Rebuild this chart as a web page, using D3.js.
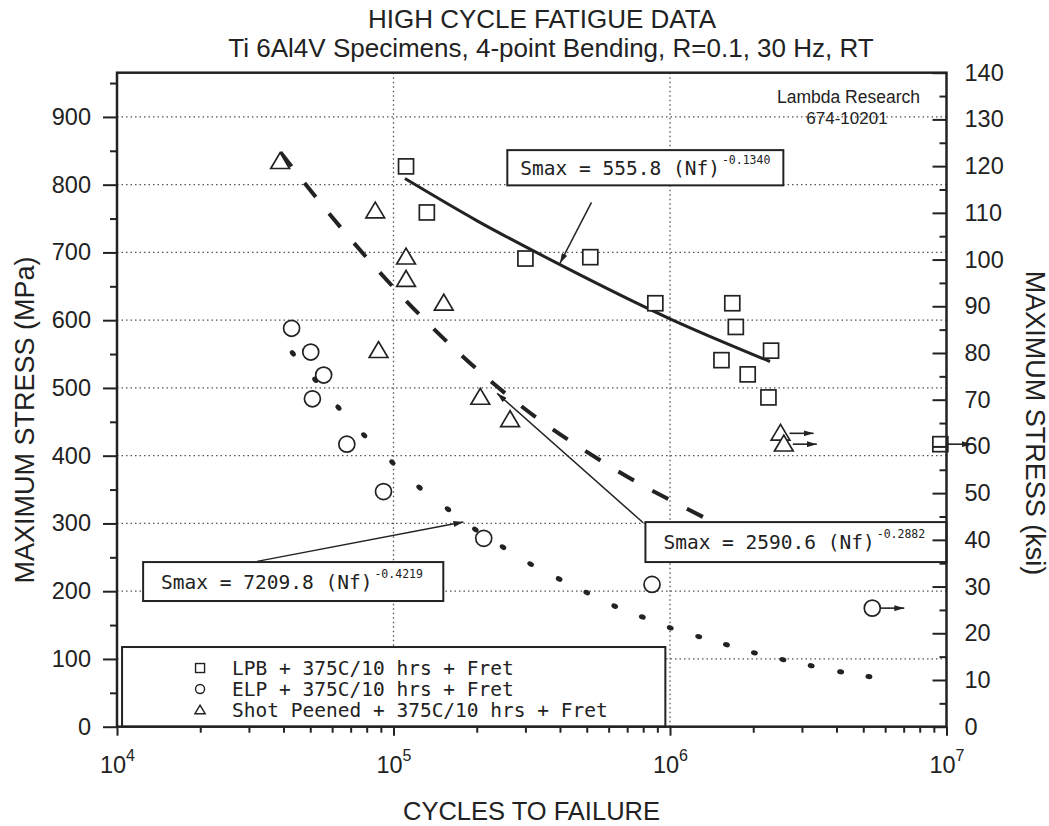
<!DOCTYPE html>
<html><head><meta charset="utf-8">
<script src="https://cdn.jsdelivr.net/npm/d3@7"></script>
<style>body{margin:0;background:#fff}</style>
</head><body>
<svg id="c" width="1049" height="826"></svg>
<script>
// ---------------- DATA ----------------
const titleText = "HIGH CYCLE FATIGUE DATA";
const subtitleText = "Ti 6Al4V Specimens, 4-point Bending, R=0.1, 30 Hz, RT";
const xLabelText = "CYCLES TO FAILURE";
const yLabelLeft = "MAXIMUM STRESS (MPa)";
const yLabelRight = "MAXIMUM STRESS (ksi)";
const noteLines = ["Lambda Research", "674-10201"];

const xDecades = [1e4, 1e5, 1e6, 1e7];
const xGridN = [1e5, 1e6];
const yTicksMPa = [0, 100, 200, 300, 400, 500, 600, 700, 800, 900];
const yMinorMPa = [50, 150, 250, 350, 450, 550, 650, 750, 850, 950];
const yTicksKsi = [0, 10, 20, 30, 40, 50, 60, 70, 80, 90, 100, 110, 120, 130, 140];
const yMinorKsi = [5, 15, 25, 35, 45, 55, 65, 75, 85, 95, 105, 115, 125, 135];

// LPB + 375C/10 hrs + Fret (squares)
const lpbN   = [1.11e5, 1.32e5, 3.0e5, 5.15e5, 8.85e5, 1.68e6, 1.73e6, 2.32e6, 1.535e6, 1.91e6, 2.27e6, 9.5e6];
const lpbMPa = [827, 759, 691, 693, 625, 625, 590, 555, 541, 520, 486, 417];
const lpbRun = [0,0,0,0,0,0,0,0,0,0,0,1];

// ELP + 375C/10 hrs + Fret (circles)
const elpN   = [4.28e4, 5.02e4, 5.59e4, 5.09e4, 6.78e4, 9.2e4, 2.12e5, 8.61e5, 5.39e6];
const elpMPa = [588, 553, 519, 484, 417, 347, 278, 210, 175];
const elpRun = [0,0,0,0,0,0,0,0,1];

// Shot Peened + 375C/10 hrs + Fret (triangles)
const spN   = [3.89e4, 8.59e4, 1.11e5, 1.11e5, 1.52e5, 8.83e4, 2.06e5, 2.64e5, 2.51e6, 2.58e6];
const spMPa = [834, 761, 693, 660, 625, 555, 486, 453, 433, 417];
const spRun = [0,0,0,0,0,0,0,0,1,1];

// fit curves
const lpbFitN   = [1.1e5, 2e5, 4e5, 1e6, 2.3e6];
const lpbFitMPa = [809, 747, 682, 602, 539];
const spFitN    = [3.9e4, 6.5e4, 1.25e5, 2.7e5, 6.2e5, 1.37e6, 1.55e6];
const spFitMPa  = [848, 735, 607, 483, 382, 306, 295];
const elpFitN   = [43250, 52120, 63240, 78340, 99080, 124200, 157400, 197700, 248900, 313300, 397200,
                   500000, 631000, 794000, 1.002e6, 1.27e6, 1.6e6, 2.02e6, 2.56e6, 3.24e6, 4.14e6, 5.24e6];
const elpFitMPa = [551, 512, 471, 430, 390, 353, 321, 291, 265, 240, 218,
                   198, 178, 162, 146, 133, 121, 109, 99, 90, 81, 74];

const eqCoef = ["555.8", "2590.6", "7209.8"];
const eqExp  = ["-0.1340", "-0.2882", "-0.4219"];

const legendLabels = ["LPB + 375C/10 hrs + Fret", "ELP + 375C/10 hrs + Fret", "Shot Peened + 375C/10 hrs + Fret"];
const legendTypes  = ["square", "circle", "triangle"];

// ---------------- DRAWING ----------------
const INK = "#222";
const SANS = "'Liberation Sans', Arial, sans-serif";
const MONO = "'DejaVu Sans Mono', 'Liberation Mono', monospace";
const svg = d3.select("#c");

const x = d3.scaleLog().domain([1e4, 1e7]).range([117, 946.5]);
const y = d3.scaleLinear().domain([0, 140 * 6.8948]).range([726.7, 72.7]);
const yk = d3.scaleLinear().domain([0, 140]).range([726.7, 72.7]);

const defs = svg.append("defs");
defs.append("marker").attr("id", "ah").attr("viewBox", "0 0 10 6").attr("refX", 10).attr("refY", 3)
  .attr("markerWidth", 10).attr("markerHeight", 6).attr("markerUnits", "userSpaceOnUse").attr("orient", "auto")
  .append("path").attr("d", "M0,0L10,3L0,6Z").attr("fill", INK);

// grid
const grid = svg.append("g").attr("stroke", "#555").attr("stroke-width", 1.3).attr("stroke-dasharray", "1.5,3");
grid.selectAll("line.h").data(yTicksMPa.filter(d => d > 0)).join("line").attr("class", "h")
  .attr("x1", x(1e4)).attr("x2", x(1e7)).attr("y1", d => y(d)).attr("y2", d => y(d));
grid.selectAll("line.v").data(xGridN).join("line").attr("class", "v")
  .attr("x1", d => x(d)).attr("x2", d => x(d)).attr("y1", y.range()[0]).attr("y2", y.range()[1]);

// fit curves
const line = d3.line().x(d => x(d[0])).y(d => y(d[1])).curve(d3.curveMonotoneX);
svg.append("path").datum(d3.zip(lpbFitN, lpbFitMPa)).attr("d", line)
  .attr("fill", "none").attr("stroke", INK).attr("stroke-width", 3);
svg.append("path").datum(d3.zip(spFitN, spFitMPa)).attr("d", line)
  .attr("fill", "none").attr("stroke", INK).attr("stroke-width", 4).attr("stroke-dasharray", "18,21");
const dotPts = d3.zip(elpFitN, elpFitMPa).map(d => [x(d[0]), y(d[1])]);
svg.append("g").selectAll("ellipse").data(dotPts).join("ellipse")
  .attr("rx", 3.5).attr("ry", 2.5).attr("fill", INK)
  .attr("transform", (d, i) => {
    const a = dotPts[Math.max(0, i - 1)], b = dotPts[Math.min(dotPts.length - 1, i + 1)];
    const ang = Math.atan2(b[1] - a[1], b[0] - a[0]) * 180 / Math.PI;
    return `translate(${d[0]},${d[1]}) rotate(${ang})`;
  });

// marker shapes
function shape(sel, type, s) {
  if (type === "square") sel.append("rect").attr("x", -s / 2).attr("y", -s / 2).attr("width", s).attr("height", s);
  else if (type === "circle") sel.append("circle").attr("r", s / 2);
  else sel.append("path").attr("d", `M0,${-s * 0.5}L${s * 0.52},${s * 0.38}L${-s * 0.52},${s * 0.38}Z`);
}
function series(N, S, R, type, size) {
  const g = svg.append("g").attr("fill", "#fff").attr("stroke", INK).attr("stroke-width", 1.7);
  const pts = d3.zip(N, S, R);
  pts.forEach(p => {
    const cx = x(p[0]), cy = y(p[1]);
    if (p[2]) {
      g.append("line").attr("x1", cx + size / 2).attr("x2", cx + size / 2 + 24).attr("y1", cy).attr("y2", cy)
        .attr("stroke-width", 1.6).attr("marker-end", "url(#ah)");
    }
    shape(g.append("g").attr("transform", `translate(${cx},${cy})`), type, size);
  });
}
series(lpbN, lpbMPa, lpbRun, "square", 15);
series(elpN, elpMPa, elpRun, "circle", 16);
series(spN, spMPa, spRun, "triangle", 18);

// equation boxes with leader arrows
const boxes = [
  {x0: 2.58e5, x1: 2.57e6, s0: 851, s1: 799, pad: 13, from: [5.2e5, 774], to: [4.0e5, 684]},
  {x0: 8.15e5, x1: 1e7, s0: 302, s1: 243, pad: 18, from: [8.0e5, 301], to: [2.37e5, 492]},
  {x0: 1.243e4, x1: 1.514e5, s0: 243, s1: 185.5, pad: 18, from: [3.21e4, 244], to: [1.79e5, 302]}
];
boxes.forEach((b, i) => {
  svg.append("line").attr("x1", x(b.from[0])).attr("y1", y(b.from[1])).attr("x2", x(b.to[0])).attr("y2", y(b.to[1]))
    .attr("stroke", INK).attr("stroke-width", 1.5).attr("marker-end", "url(#ah)");
  const bx = x(b.x0), by = y(b.s0), bw = x(b.x1) - bx, bh = y(b.s1) - by;
  svg.append("rect").attr("x", bx).attr("y", by).attr("width", bw).attr("height", bh)
    .attr("fill", "#fff").attr("stroke", INK).attr("stroke-width", 2);
  const t = svg.append("text").attr("x", bx + b.pad).attr("y", by + bh / 2 + 7)
    .attr("font-family", MONO).attr("font-size", 19.5).attr("fill", INK)
    .attr("xml:space", "preserve").text(`Smax = ${eqCoef[i]} (Nf)`);
  const tw = t.node().getComputedTextLength();
  svg.append("text").attr("x", bx + b.pad + tw + 2).attr("y", by + bh / 2 - 4)
    .attr("font-family", MONO).attr("font-size", 11.5).attr("fill", INK).text(eqExp[i]);
});

// legend
const lg = svg.append("g");
const lx0 = x(1.043e4), lx1 = x(9.62e5), ly0 = y(117.6), ly1 = y(0);
lg.append("rect").attr("x", lx0).attr("y", ly0).attr("width", lx1 - lx0).attr("height", ly1 - ly0)
  .attr("fill", "#fff").attr("stroke", INK).attr("stroke-width", 2);
legendLabels.forEach((lab, i) => {
  const cy = ly0 + 21 + i * 21;
  const sg = lg.append("g").attr("transform", `translate(${lx0 + 78},${cy})`)
    .attr("fill", "#fff").attr("stroke", INK).attr("stroke-width", 1.4);
  shape(sg, legendTypes[i], legendTypes[i] === "triangle" ? 10 : 9);
  lg.append("text").attr("x", lx0 + 110).attr("y", cy + 7).attr("font-family", MONO).attr("font-size", 19.5)
    .attr("fill", INK).attr("xml:space", "preserve").text(lab);
});

// frame
svg.append("rect").attr("x", x(1e4)).attr("y", y.range()[1]).attr("width", x(1e7) - x(1e4))
  .attr("height", y.range()[0] - y.range()[1]).attr("fill", "none").attr("stroke", INK).attr("stroke-width", 2.5);

function styleAxis(g) {
  g.select(".domain").remove();
  g.selectAll(".tick line").attr("stroke", INK).attr("stroke-width", 2);
  g.selectAll(".tick text").attr("fill", INK).attr("font-family", SANS).attr("font-size", 23.5);
}
// left axis
svg.append("g").attr("transform", `translate(${x(1e4)},0)`)
  .call(d3.axisLeft(y).tickValues(yMinorMPa.filter(d => d < 960)).tickSize(7).tickFormat("")).call(styleAxis);
svg.append("g").attr("transform", `translate(${x(1e4)},0)`)
  .call(d3.axisLeft(y).tickValues(yTicksMPa).tickSize(14).tickPadding(12).tickFormat(d3.format("d"))).call(styleAxis);
// right axis
svg.append("g").attr("transform", `translate(${x(1e7)},0)`)
  .call(d3.axisRight(yk).tickValues(yMinorKsi).tickSize(-7).tickFormat("")).call(styleAxis);
svg.append("g").attr("transform", `translate(${x(1e7)},0)`)
  .call(d3.axisRight(yk).tickValues(yTicksKsi).tickSize(-14).tickPadding(18).tickFormat(d3.format("d"))).call(styleAxis);
// bottom axis
const minorN = [];
[1e4, 1e5, 1e6].forEach(dec => [2,3,4,5,6,7,8,9].forEach(k => minorN.push(k * dec)));
svg.append("g").attr("transform", `translate(0,${y(0)})`)
  .call(d3.axisBottom(x).tickValues(minorN).tickSize(6).tickFormat("")).call(styleAxis);
const gb = svg.append("g").attr("transform", `translate(0,${y(0)})`)
  .call(d3.axisBottom(x).tickValues(xDecades).tickSize(9).tickPadding(21).tickFormat("")).call(styleAxis);
gb.selectAll(".tick text").attr("dy", "0.71em").each(function(d) {
  const t = d3.select(this);
  t.append("tspan").text("10");
  t.append("tspan").attr("font-size", 16).attr("dy", "-0.75em").text(Math.round(Math.log10(d)));
});

// titles
svg.append("text").attr("x", 542).attr("y", 28).attr("text-anchor", "middle").attr("font-family", SANS)
  .attr("font-size", 26).attr("fill", INK).text(titleText);
svg.append("text").attr("x", 551).attr("y", 57).attr("text-anchor", "middle").attr("font-family", SANS)
  .attr("font-size", 26).attr("fill", INK).text(subtitleText);
svg.append("text").attr("x", 531.5).attr("y", 820).attr("text-anchor", "middle").attr("font-family", SANS)
  .attr("font-size", 25.5).attr("fill", INK).text(xLabelText);
svg.append("text").attr("transform", "translate(34,420) rotate(-90)").attr("text-anchor", "middle")
  .attr("font-family", SANS).attr("font-size", 27).attr("fill", INK).text(yLabelLeft);
svg.append("text").attr("transform", "translate(1026,423) rotate(90)").attr("text-anchor", "middle")
  .attr("font-family", SANS).attr("font-size", 27).attr("fill", INK).text(yLabelRight);
// note
svg.append("text").attr("x", 920).attr("y", 103).attr("text-anchor", "end").attr("font-family", SANS)
  .attr("font-size", 17.5).attr("fill", INK).text(noteLines[0]);
svg.append("text").attr("x", 847).attr("y", 124).attr("text-anchor", "middle").attr("font-family", SANS)
  .attr("font-size", 17).attr("fill", INK).text(noteLines[1]);
</script>
</body></html>
